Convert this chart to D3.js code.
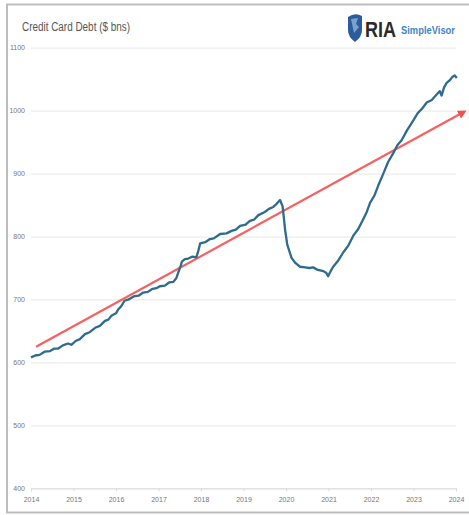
<!DOCTYPE html>
<html>
<head>
<meta charset="utf-8">
<script src="https://cdn.jsdelivr.net/npm/d3@7"></script>
<style>
  body { margin: 0; background: #fff; }
  svg { display: block; }
</style>
</head>
<body>
<svg id="chart"></svg>
<script>
// credit card debt, $ bns
const debtDates = [
  2014.0, 2014.1, 2014.2, 2014.32, 2014.45, 2014.55, 2014.64, 2014.75, 2014.87, 2014.95,
  2015.05, 2015.15, 2015.27, 2015.38, 2015.51, 2015.62, 2015.74, 2015.82, 2015.89, 2016.0,
  2016.05, 2016.12, 2016.2, 2016.3, 2016.42, 2016.53, 2016.64, 2016.75, 2016.86, 2016.95,
  2017.03, 2017.15, 2017.25, 2017.35, 2017.42, 2017.46, 2017.52, 2017.55, 2017.62, 2017.7,
  2017.8, 2017.89, 2017.94, 2017.98, 2018.1, 2018.21, 2018.3, 2018.45, 2018.6, 2018.72,
  2018.82, 2018.92, 2019.05, 2019.15, 2019.25, 2019.35, 2019.5, 2019.6, 2019.7, 2019.78,
  2019.86, 2019.92, 2019.98, 2020.03, 2020.13, 2020.22, 2020.33, 2020.45, 2020.55, 2020.64,
  2020.75, 2020.88, 2020.95, 2020.99, 2021.05, 2021.11, 2021.22, 2021.35, 2021.47, 2021.58,
  2021.7, 2021.82, 2021.9, 2021.98, 2022.08, 2022.17, 2022.29, 2022.4, 2022.52, 2022.62,
  2022.72, 2022.85, 2023.0, 2023.1, 2023.2, 2023.31, 2023.43, 2023.55, 2023.62, 2023.66,
  2023.72, 2023.78, 2023.85, 2023.92, 2023.97, 2024.02
];
const debtValues = [
  608, 611, 612, 617, 618, 622, 622, 627, 630, 628,
  634, 637, 645, 648, 655, 658, 666, 668, 674, 678,
  684, 689, 698, 700, 705, 706, 711, 712, 717, 718,
  721, 722, 727, 728, 734, 742, 753, 760, 764, 765,
  768, 767, 778, 789, 791, 796, 797, 804, 805, 809,
  811, 817, 819, 825, 827, 834, 839, 844, 847, 852,
  858, 848, 810, 787, 766, 758, 752, 751, 750, 751,
  747, 745, 742, 737, 745, 752, 761, 775, 786, 801,
  812, 828, 839, 854, 865, 881, 900, 918, 932, 945,
  953, 969, 985, 996, 1003, 1013, 1017, 1026, 1031, 1024,
  1037, 1044, 1048, 1054, 1056, 1052
];

// trend line (start, end)
const trendDates = [2014.12, 2024.16];
const trendValues = [625, 997];

const yTicks = [400, 500, 600, 700, 800, 900, 1000, 1100];
const xTicks = [2014, 2015, 2016, 2017, 2018, 2019, 2020, 2021, 2022, 2023, 2024];

const width = 469, height = 515;
const svg = d3.select("#chart").attr("width", width).attr("height", height);

const x = d3.scaleLinear().domain([2014, 2024]).range([31, 456]);
const y = d3.scaleLinear().domain([400, 1100]).range([488.3, 47.7]);

// frame
svg.append("rect")
  .attr("x", 7).attr("y", 4.5)
  .attr("width", 480).attr("height", 508)
  .attr("fill", "none")
  .attr("stroke", "#bdbdbd")
  .attr("stroke-width", 2);

// title
svg.append("text")
  .attr("x", 22).attr("y", 31)
  .attr("textLength", 108).attr("lengthAdjust", "spacingAndGlyphs")
  .style("font-family", "Liberation Sans, Arial, sans-serif")
  .style("font-size", "12.5px")
  .attr("fill", "#555")
  .text("Credit Card Debt ($ bns)");

// logo
const logo = svg.append("g");
logo.append("path")
  .attr("d", "M348,17 Q355,12 362,16 L362,30 Q362,37 355,42 Q348,37 348,30 Z")
  .attr("fill", "#2c5d9a");
logo.append("path")
  .attr("d", "M351,19 L358,18 L356,24 L359,27 L354,33 Z")
  .attr("fill", "#8fb4dc")
  .attr("opacity", 0.8);
logo.append("text")
  .attr("x", 365).attr("y", 37)
  .style("font-family", "Liberation Sans, Arial, sans-serif")
  .style("font-size", "22px")
  .style("font-weight", "bold")
  .attr("textLength", 31).attr("lengthAdjust", "spacingAndGlyphs")
  .attr("fill", "#2a2a2a")
  .text("RIA");
logo.append("text")
  .attr("x", 401).attr("y", 34)
  .style("font-family", "Liberation Sans, Arial, sans-serif")
  .style("font-size", "11px")
  .style("font-weight", "bold")
  .attr("textLength", 54).attr("lengthAdjust", "spacingAndGlyphs")
  .attr("fill", "#3d86c6")
  .text("SimpleVisor");

// grid lines + y labels
const yAxis = d3.axisLeft(y).tickValues(yTicks).tickFormat(d3.format("d"))
  .tickSize(-(456 - 31)).tickPadding(6);
const gy = svg.append("g").attr("transform", "translate(31,0)").call(yAxis);
gy.select(".domain").remove();
gy.selectAll(".tick line").attr("stroke", "#ececec").attr("stroke-width", 1.2);
gy.selectAll(".tick text")
  .attr("fill", "#777")
  .style("font-family", "Liberation Sans, Arial, sans-serif")
  .style("font-size", "7px");

// x axis
const xAxis = d3.axisBottom(x).tickValues(xTicks).tickFormat(d3.format("d")).tickSize(3).tickPadding(6);
const gx = svg.append("g").attr("transform", "translate(0,488.3)").call(xAxis);
gx.select(".domain").attr("stroke", "#dcdcdc");
gx.selectAll(".tick line").attr("stroke", "#dcdcdc");
gx.selectAll(".tick text")
  .attr("fill", "#777")
  .style("font-family", "Liberation Sans, Arial, sans-serif")
  .style("font-size", "7px");

// trend line with arrow
svg.append("defs").append("marker")
  .attr("id", "arrow")
  .attr("viewBox", "0 0 10 10")
  .attr("refX", 5).attr("refY", 5)
  .attr("markerWidth", 4).attr("markerHeight", 4)
  .attr("orient", "auto")
  .append("path")
  .attr("d", "M0,0 L10,5 L0,10 Z")
  .attr("fill", "#f4504f");

const trend = trendDates.map((d, i) => [d, trendValues[i]]);
svg.append("path")
  .datum(trend)
  .attr("d", d3.line().x(d => x(d[0])).y(d => y(d[1])))
  .attr("fill", "none")
  .attr("stroke", "#f66060")
  .attr("stroke-width", 2.2)
  .attr("marker-end", "url(#arrow)");

// debt line
const debt = debtDates.map((d, i) => [d, debtValues[i]]);
svg.append("path")
  .datum(debt)
  .attr("d", d3.line().x(d => x(d[0])).y(d => y(d[1])))
  .attr("fill", "none")
  .attr("stroke", "#2f6b8c")
  .attr("stroke-width", 2.3)
  .attr("stroke-linejoin", "round");
</script>
</body>
</html>
